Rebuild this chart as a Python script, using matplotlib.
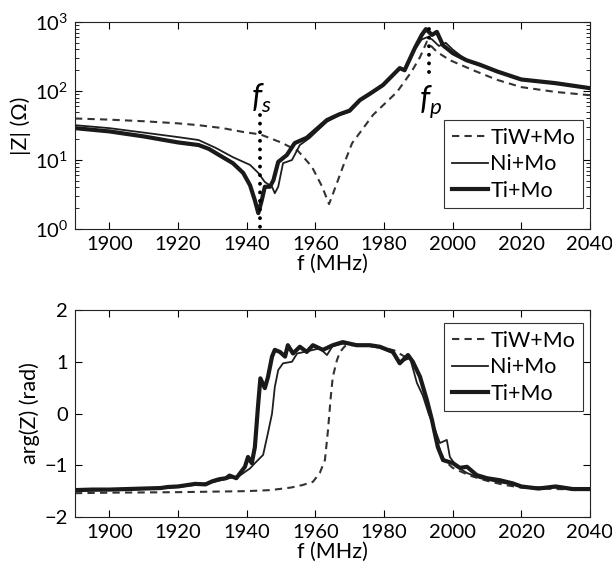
import numpy as np
import matplotlib
matplotlib.use('Agg')
import matplotlib.pyplot as plt

plt.rcParams['font.family'] = ['Lato', 'DejaVu Sans']
plt.rcParams['mathtext.fontset'] = 'custom'
plt.rcParams['mathtext.rm'] = 'Lato'
plt.rcParams['mathtext.it'] = 'Lato:italic'

# |Z| data (Ohm)
f_tiw = [1890, 1900, 1910, 1920, 1926, 1933, 1939, 1944, 1950, 1955, 1959, 1962, 1964, 1965.2,
         1968, 1970.7, 1976.8, 1983.8, 1988, 1990.5, 1992.5, 1995.4, 1999.2, 2006, 2013, 2020,
         2030, 2040]
z_tiw = [40, 38.5, 36.5, 34, 32, 29, 25.5, 23.5, 18, 13.5, 8, 4.1, 2.3, 3.3,
         7.9, 17.5, 45, 97, 190, 310, 520, 370, 280, 200, 145, 114,
         97, 87]

f_ni = [1890, 1900, 1910, 1920, 1926, 1931, 1936, 1941, 1943.4, 1945.3, 1947.4, 1948.2, 1949.2,
        1950.6, 1953.2, 1955.5, 1958.4, 1960, 1963.4, 1967, 1970, 1973, 1976, 1979.7, 1984.6,
        1986, 1989, 1991, 1992.5, 1994, 1996, 1998, 2000, 2004, 2008, 2013, 2020, 2030, 2040]
z_ni = [32, 29, 25, 21.5, 19.5, 15, 11, 8.5, 6.5, 4.8, 4.1, 3.3, 4.1,
        9, 10, 16.5, 21, 25, 36, 45, 50, 72, 90, 120, 210,
        200, 400, 560, 600, 560, 450, 500, 400, 280, 240, 190, 145, 128, 110]

f_ti = [1890, 1900, 1910, 1920, 1926, 1929, 1932, 1936, 1939, 1941, 1942.4, 1943.4, 1944.4, 1945.3,
        1946.8, 1947.8, 1949.2, 1951.7, 1954, 1957.5, 1960, 1963.4, 1967, 1970, 1973, 1976,
        1979.7, 1984.6, 1986, 1989, 1991, 1992.2, 1994, 1995.4, 1997.2, 2000, 2004, 2008, 2013,
        2020, 2030, 2040]
z_ti = [29, 26, 22, 18, 16.5, 14.5, 11.8, 9, 6.5, 4.3, 2.6, 1.7, 2.6, 4.1,
        4.1, 5.1, 9.4, 11.8, 17.6, 21, 27, 38, 46, 52, 74, 92,
        122, 215, 200, 420, 650, 790, 650, 720, 460, 355, 280, 240, 192,
        147, 130, 110]

# arg(Z) data (rad)
fa_tiw = [1890, 1900, 1920, 1940, 1947, 1953, 1956.4, 1959.3, 1961.3, 1962.8, 1963.7, 1964.5,
          1965.1, 1966.3, 1967.2, 1968.6, 1972, 1978, 1983, 1986, 1988.4, 1990.5, 1992.5, 1994,
          1995.7, 1997.5, 2000, 2005, 2010, 2015, 2020, 2030, 2040]
a_tiw = [-1.54, -1.53, -1.52, -1.5, -1.48, -1.43, -1.38, -1.32, -1.15, -0.9, -0.32, 0.32,
         0.71, 1.03, 1.19, 1.3, 1.33, 1.3, 1.22, 1.1, 1.0, 0.71, 0.26, -0.13,
         -0.6, -0.9, -1.05, -1.2, -1.3, -1.38, -1.43, -1.46, -1.47]

fa_ni = [1890, 1900, 1910, 1920, 1925, 1930, 1935, 1938, 1941, 1942.4, 1944.8, 1946.2, 1947.4,
         1948.2, 1949.2, 1950.6, 1953.2, 1954.7, 1957.5, 1961.3, 1963.4, 1965, 1968, 1972, 1976,
         1978.8, 1982.6, 1984.6, 1987.6, 1989.6, 1991.3, 1993, 1994.8, 1996.3, 1998.3, 1999.2,
         2001.2, 2004.2, 2008, 2013, 2018, 2020, 2030, 2040]
a_ni = [-1.5, -1.48, -1.46, -1.42, -1.38, -1.33, -1.25, -1.2, -1.06, -0.96, -0.8, -0.38, 0.0,
        0.51, 0.84, 0.97, 1.0, 1.16, 1.2, 1.26, 1.13, 1.3, 1.35, 1.33, 1.3,
        1.27, 1.17, 1.0, 1.07, 0.59, 0.35, 0.0, -0.3, -0.57, -0.51, -0.84,
        -1.03, -1.15, -1.25, -1.32, -1.38, -1.42, -1.43, -1.46]

fa_ti = [1890, 1895, 1900, 1905, 1910, 1915, 1917, 1920, 1923, 1925, 1928, 1930, 1932, 1934,
         1935, 1937, 1939.5, 1940.4, 1941.5, 1942.4, 1943.3, 1944, 1945.3, 1946.2, 1947.4, 1948.2,
         1949.7, 1951.2, 1952, 1953.5, 1955.5, 1957.5, 1959.3, 1962.2, 1965.1, 1968, 1972, 1975.9,
         1978.8, 1982.6, 1984.6, 1986.1, 1987, 1988.4, 1990.5, 1992.5, 1994, 1994.8, 1995.7,
         1997.2, 2000.1, 2002.1, 2004.2, 2007, 2010, 2013.8, 2017.5, 2020, 2025, 2030, 2035, 2040]
a_ti = [-1.48, -1.47, -1.47, -1.46, -1.45, -1.44, -1.42, -1.41, -1.38, -1.36, -1.37, -1.31, -1.27, -1.25,
        -1.2, -1.25, -1.03, -0.84, -0.96, -0.65, 0.13, 0.68, 0.49, 0.7, 1.1, 1.23,
        1.19, 1.1, 1.32, 1.16, 1.29, 1.19, 1.32, 1.23, 1.32, 1.38, 1.32, 1.32,
        1.29, 1.19, 0.97, 1.07, 1.13, 1.0, 0.71, 0.26, -0.13, -0.38, -0.65,
        -0.9, -0.96, -1.05, -1.03, -1.19, -1.25, -1.29, -1.35, -1.41, -1.45, -1.41, -1.46, -1.46]

# resonance markers
fs_f = [1944, 1944]
fs_z = [45, 1]
fp_f = [1993, 1993]
fp_z = [190, 1000]

labels = ['TiW+Mo', 'Ni+Mo', 'Ti+Mo']

fs = 15.5
tfs = 14.5
fig = plt.figure(figsize=(6.12, 5.74), dpi=100)
ax1 = fig.add_axes([0.1225, 0.601, 0.8415, 0.3606])
ax2 = fig.add_axes([0.1225, 0.0993, 0.8415, 0.3606])

dkw = dict(color='#333333', linewidth=1.5, dashes=(3.5, 2.5))
nkw = dict(color='#1e1e1e', linewidth=1.3)
tkw = dict(color='#1a1a1a', linewidth=3.0)

ax1.plot(f_tiw, z_tiw, label=labels[0], **dkw)
ax1.plot(f_ni, z_ni, label=labels[1], **nkw)
ax1.plot(f_ti, z_ti, label=labels[2], **tkw)
ax1.plot(fs_f, fs_z, color='k', linewidth=2.8, dashes=(0.01, 2.2), dash_capstyle='round')
ax1.plot(fp_f, fp_z, color='k', linewidth=2.8, dashes=(0.01, 2.2), dash_capstyle='round')
ax1.text(1944.3, 78, r'$f_s$', fontsize=23, ha='center', va='center')
ax1.text(1993.6, 70, r'$f_p$', fontsize=23, ha='center', va='center')
ax1.set_yscale('log')
ax1.set_ylim(1, 1000)
ax1.set_xlim(1890, 2040)
ax1.set_xlabel('f (MHz)', fontsize=fs, labelpad=1)
ax1.set_ylabel('|Z| (Ω)', fontsize=fs, labelpad=3)
leg1 = ax1.legend(loc='lower right', bbox_to_anchor=(0.986, 0.101), fontsize=fs,
                  handlelength=1.7, handletextpad=0.1, labelspacing=0.3, borderpad=0.35,
                  fancybox=False, edgecolor='#333333', framealpha=1, borderaxespad=0)
leg1.get_frame().set_linewidth(0.8)

ax2.plot(fa_tiw, a_tiw, label=labels[0], **dkw)
ax2.plot(fa_ni, a_ni, label=labels[1], **nkw)
ax2.plot(fa_ti, a_ti, label=labels[2], **tkw)
ax2.set_ylim(-2, 2)
ax2.set_xlim(1890, 2040)
ax2.set_yticks([-2, -1, 0, 1, 2])
ax2.set_xlabel('f (MHz)', fontsize=fs, labelpad=1)
ax2.set_ylabel('arg(Z) (rad)', fontsize=fs, labelpad=3)
leg2 = ax2.legend(loc='upper right', bbox_to_anchor=(0.986, 0.937), fontsize=fs,
                  handlelength=1.7, handletextpad=0.1, labelspacing=0.3, borderpad=0.35,
                  fancybox=False, edgecolor='#333333', framealpha=1, borderaxespad=0)
leg2.get_frame().set_linewidth(0.8)

for ax in (ax1, ax2):
    ax.set_xticks(np.arange(1900, 2041, 20))
    ax.tick_params(which='both', direction='in', top=True, right=True, labelsize=tfs)
    ax.tick_params(which='major', length=5, width=0.8, pad=5)
    ax.tick_params(which='minor', length=3, width=0.6)
    for s in ax.spines.values():
        s.set_linewidth(0.8)
        s.set_color('#222222')

fig.savefig('out.png', dpi=100)
